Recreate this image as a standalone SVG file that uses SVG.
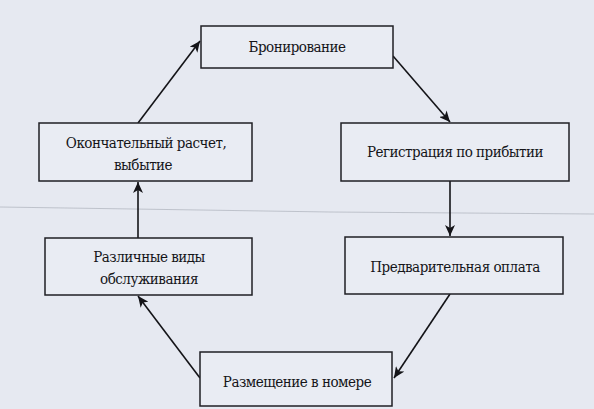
<svg xmlns="http://www.w3.org/2000/svg" width="594" height="409" viewBox="0 0 594 409">
<style>
.box{fill:#e9ecf3;stroke:#1f1f24;stroke-width:1.5}
.lbl{font-family:"DejaVu Serif","Liberation Serif",serif;font-stretch:condensed;font-size:15px;fill:#141418;text-anchor:middle;letter-spacing:-0.5px}
.conn{stroke:#141418;stroke-width:1.6;fill:none}
</style>
<defs>
<marker id="ah" markerUnits="userSpaceOnUse" markerWidth="12" markerHeight="10" refX="11" refY="5" orient="auto">
<path d="M0,0 L11,5 L0,10 L3,5 Z" fill="#141418"/>
</marker>
</defs>
<rect x="0" y="0" width="594" height="409" fill="#e6e9f1"/>
<polyline points="0,207 200,210 330,212 594,214" fill="none" stroke="#a3a8b3" stroke-width="1" opacity="0.6"/>
<g id="connectors">
<line class="conn" x1="138" y1="123" x2="200" y2="41" marker-end="url(#ah)"/>
<line class="conn" x1="393" y1="56" x2="450" y2="122" marker-end="url(#ah)"/>
<line class="conn" x1="450" y1="181" x2="450" y2="236" marker-end="url(#ah)"/>
<line class="conn" x1="450" y1="294" x2="394" y2="378" marker-end="url(#ah)"/>
<line class="conn" x1="200" y1="378" x2="138" y2="296" marker-end="url(#ah)"/>
<line class="conn" x1="138" y1="238" x2="138" y2="182" marker-end="url(#ah)"/>
</g>
<g id="n1"><rect class="box" x="201" y="26" width="192" height="42"/><text class="lbl" x="297" y="52">Бронирование</text></g>
<g id="n2"><rect class="box" x="341" y="123" width="228" height="58"/><text class="lbl" x="455" y="157">Регистрация по прибытии</text></g>
<g id="n3"><rect class="box" x="39" y="123" width="213" height="58"/><text class="lbl" x="146" y="148">Окончательный расчет,</text><text class="lbl" x="143" y="170">выбытие</text></g>
<g id="n4"><rect class="box" x="45" y="238" width="207" height="57"/><text class="lbl" x="149" y="262">Различные виды</text><text class="lbl" x="149" y="284">обслуживания</text></g>
<g id="n5"><rect class="box" x="345" y="237" width="218" height="57"/><text class="lbl" x="455" y="272">Предварительная оплата</text></g>
<g id="n6"><rect class="box" x="200" y="352" width="192" height="54"/><text class="lbl" x="297" y="387">Размещение в номере</text></g>
</svg>
